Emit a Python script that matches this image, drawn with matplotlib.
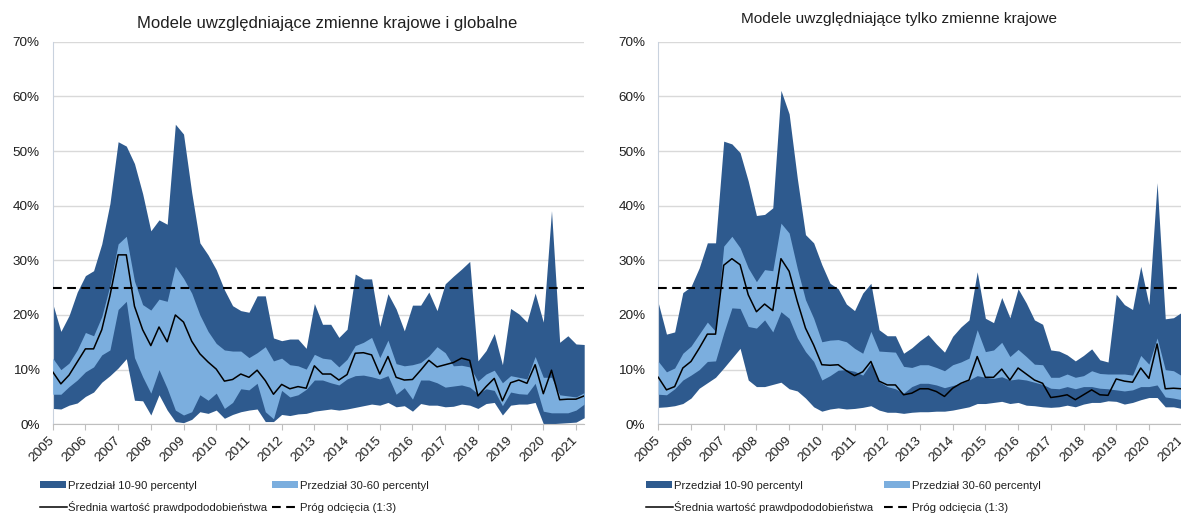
import matplotlib
matplotlib.use("Agg")
import matplotlib.pyplot as plt
from matplotlib.patches import Rectangle
from matplotlib.lines import Line2D
import matplotlib.transforms as mtransforms
import numpy as np

plt.rcParams['font.family'] = ['Liberation Sans', 'DejaVu Sans']

# Quarterly observations 2005Q1 .. 2021Q2 (values in %)
start_year = 2005
years = list(range(2005, 2022))
threshold = 25

# Left panel: models with domestic and global variables
L_p90 = [22.1, 17.0, 19.9, 24.2, 27.2, 28.1, 33.0, 40.4, 51.7, 50.9, 47.7, 42.2, 35.4, 37.4, 36.6, 54.9,
         53.1, 42.4, 33.2, 31.0, 28.3, 24.6, 21.7, 20.8, 20.5, 23.5, 23.5, 15.8, 15.3, 15.6, 15.6, 13.9,
         22.1, 18.3, 18.3, 15.9, 17.4, 27.5, 26.6, 26.6, 17.9, 23.9, 21.1, 17.1, 21.8, 21.8, 24.2, 20.8,
         25.7, 27.1, 28.4, 29.8, 11.6, 13.5, 16.6, 10.9, 21.2, 20.2, 18.7, 24.0, 18.7, 39.1, 15.0, 16.2,
         14.7, 14.6]
L_p60 = [12.1, 10.0, 11.2, 13.6, 16.8, 16.2, 19.7, 25.4, 33.0, 34.4, 26.2, 21.9, 20.9, 22.9, 22.5, 28.9,
         26.7, 24.0, 20.0, 17.0, 14.8, 13.6, 13.4, 13.4, 12.2, 13.1, 14.2, 11.6, 12.1, 10.9, 10.7, 10.1,
         12.8, 12.1, 11.9, 10.5, 11.9, 14.4, 15.0, 15.9, 12.2, 15.4, 11.1, 10.7, 10.9, 11.3, 12.5, 14.2,
         13.1, 10.7, 10.8, 10.5, 7.9, 9.2, 9.9, 7.6, 8.9, 8.6, 8.3, 12.4, 8.6, 8.6, 5.4, 5.2,
         5.0, 5.8]
L_p30 = [5.5, 5.5, 6.9, 8.1, 9.6, 10.5, 12.7, 13.6, 21.0, 22.5, 12.2, 8.7, 5.7, 10.0, 6.6, 2.6,
         1.7, 2.3, 5.4, 4.4, 5.7, 2.9, 4.0, 6.5, 6.3, 7.5, 2.3, 1.0, 6.2, 5.0, 5.4, 6.4,
         8.1, 8.1, 7.6, 7.2, 8.3, 8.9, 9.0, 8.7, 8.3, 8.9, 5.5, 6.7, 4.6, 8.1, 8.1, 7.6,
         6.8, 7.0, 7.2, 6.8, 5.6, 6.5, 6.2, 3.4, 5.9, 5.6, 5.5, 7.5, 2.4, 2.1, 2.1, 2.1,
         2.6, 3.7]
L_p10 = [2.9, 2.8, 3.5, 3.9, 5.1, 5.9, 7.7, 8.9, 10.3, 12.0, 4.4, 4.3, 1.7, 5.4, 2.6, 0.5,
         0.3, 0.9, 2.3, 2.0, 2.6, 1.1, 1.8, 2.3, 2.6, 2.8, 0.5, 0.5, 1.8, 1.6, 1.9, 2.0,
         2.4, 2.6, 2.8, 2.6, 2.8, 3.1, 3.4, 3.7, 3.5, 4.0, 3.2, 3.4, 2.4, 3.8, 3.5, 3.5,
         3.2, 3.3, 3.7, 3.5, 2.9, 3.8, 4.0, 1.7, 3.5, 3.7, 3.7, 4.0, 0.1, 0.1, 0.2, 0.3,
         0.4, 1.2]
L_mean = [9.6, 7.4, 9.0, 11.4, 13.8, 13.8, 17.3, 23.5, 31.0, 31.0, 21.6, 17.3, 14.4, 17.8, 15.1, 20.0,
          18.7, 15.2, 12.9, 11.4, 10.1, 7.9, 8.2, 9.2, 8.6, 9.9, 8.0, 5.5, 7.3, 6.5, 6.9, 6.6,
          10.7, 9.2, 9.2, 8.1, 9.1, 13.0, 13.1, 12.7, 9.2, 12.4, 8.6, 8.1, 8.2, 9.9, 11.7, 10.5,
          10.9, 11.3, 12.1, 11.7, 5.2, 6.9, 8.4, 4.3, 7.6, 8.1, 7.5, 10.9, 5.6, 9.9, 4.5, 4.6,
          4.6, 5.2]

# Right panel: models with domestic variables only
R_p90 = [22.2, 16.5, 16.9, 24.1, 25.2, 28.6, 33.2, 33.2, 51.8, 51.3, 49.7, 44.5, 38.2, 38.4, 39.6, 61.1,
         56.8, 45.0, 34.7, 33.2, 29.2, 25.8, 24.8, 22.0, 20.8, 24.0, 25.8, 17.3, 16.2, 16.2, 13.0, 14.0,
         15.3, 16.4, 14.7, 13.2, 16.1, 17.8, 19.1, 27.9, 19.4, 18.6, 23.2, 19.5, 24.8, 22.2, 19.1, 18.3,
         13.6, 13.4, 12.7, 11.6, 12.6, 13.8, 11.8, 11.4, 23.8, 21.9, 21.0, 28.9, 21.9, 44.2, 19.3, 19.5,
         20.5, 21.0]
R_p60 = [11.5, 9.6, 10.3, 13.0, 14.3, 16.5, 18.7, 17.0, 32.6, 34.4, 32.3, 28.6, 26.1, 28.3, 28.1, 36.8,
         35.0, 28.5, 22.8, 19.4, 15.1, 15.4, 15.5, 15.1, 13.9, 13.0, 17.0, 13.4, 13.3, 13.2, 10.6, 10.4,
         10.9, 10.9, 10.4, 9.8, 10.9, 11.4, 12.1, 17.3, 13.3, 13.6, 15.0, 12.4, 13.7, 12.4, 11.0, 10.9,
         8.6, 8.6, 9.2, 8.6, 8.9, 9.8, 9.3, 9.2, 9.2, 9.2, 9.0, 12.6, 11.0, 15.8, 10.0, 9.8,
         8.9, 8.8]
R_p30 = [5.5, 5.4, 6.5, 8.1, 9.0, 10.0, 11.5, 11.6, 16.7, 21.3, 21.2, 17.9, 17.6, 19.1, 16.9, 20.6,
         19.4, 15.8, 13.3, 11.5, 8.1, 8.9, 9.9, 10.0, 9.7, 9.0, 11.2, 7.8, 6.9, 6.5, 5.7, 6.9,
         7.5, 7.5, 7.2, 6.7, 7.1, 7.5, 8.1, 8.9, 8.6, 8.4, 8.7, 8.1, 8.3, 8.1, 7.7, 7.3,
         6.6, 6.5, 6.9, 6.5, 6.9, 6.9, 6.6, 6.5, 6.3, 6.1, 6.3, 6.9, 6.9, 7.2, 5.0, 4.8,
         4.5, 4.5]
R_p10 = [3.1, 3.2, 3.4, 3.8, 4.8, 6.6, 7.6, 8.6, 10.3, 12.1, 13.9, 8.1, 6.9, 6.9, 7.3, 7.7,
         6.5, 6.1, 4.8, 3.2, 2.4, 2.8, 3.0, 2.8, 2.9, 3.1, 3.4, 2.6, 2.2, 2.2, 2.0, 2.2,
         2.3, 2.3, 2.4, 2.4, 2.6, 2.9, 3.2, 3.8, 3.8, 4.0, 4.2, 3.8, 4.0, 3.5, 3.4, 3.2,
         3.1, 3.2, 3.5, 3.2, 3.7, 4.0, 4.0, 4.3, 4.2, 3.7, 4.0, 4.5, 4.9, 4.9, 3.2, 3.2,
         2.9, 2.8]
R_mean = [8.6, 6.3, 6.9, 10.3, 11.5, 13.9, 16.5, 16.5, 29.1, 30.3, 29.2, 23.7, 20.6, 22.0, 20.8, 30.3,
          28.0, 22.5, 17.6, 14.5, 10.9, 10.8, 10.9, 9.8, 8.9, 9.6, 11.5, 7.9, 7.2, 7.2, 5.4, 5.7,
          6.5, 6.5, 6.0, 5.1, 6.6, 7.5, 8.1, 12.4, 8.6, 8.6, 10.1, 8.1, 10.3, 9.2, 8.1, 7.5,
          4.9, 5.1, 5.4, 4.5, 5.4, 6.3, 5.4, 5.3, 8.3, 7.9, 7.7, 10.3, 8.4, 14.7, 6.5, 6.6,
          6.5, 6.4]

titles = ["Modele uwzględniające zmienne krajowe i globalne",
          "Modele uwzględniające tylko zmienne krajowe"]
legend_labels = ["Przedział 10-90 percentyl", "Przedział 30-60 percentyl",
                 "Średnia wartość prawdpododobieństwa", "Próg odcięcia (1:3)"]

DARK = "#2E5A8E"
LIGHT = "#7BAEDE"
GRID = "#D9D9D9"
TXT = "#1f1f1f"

W, H = 1181, 513
fig = plt.figure(figsize=(W / 100, H / 100), dpi=100)

def fx(px):
    return px / W

def fy(py):
    return 1 - py / H

ax_bottom = fy(424.3)
ax_h = fy(41.7) - ax_bottom
ax_w = fx(531.5)
axL = fig.add_axes([fx(52.7), ax_bottom, ax_w, ax_h])
axR = fig.add_axes([fx(658.3), ax_bottom, ax_w, ax_h])

def draw(ax, p10, p30, p60, p90, mean):
    n = len(p90)
    x = start_year + np.arange(n) / 4.0
    p10 = np.array(p10); p30 = np.array(p30); p60 = np.array(p60); p90 = np.array(p90)
    ax.fill_between(x, p10, p90, color=DARK, lw=0, zorder=2)
    ax.fill_between(x, p30, p60, color=LIGHT, lw=0, zorder=3)
    ax.plot(x, mean, color="black", lw=1.1, zorder=4)
    ax.axhline(threshold, color="black", lw=1.5, dashes=(4.2, 2.6), zorder=5)
    ax.set_xlim(start_year, start_year + (n - 1) / 4.0)
    ax.set_ylim(0, 70)
    ax.set_yticks(np.arange(0, 71, 10))
    ax.set_yticklabels([f"{v}%" for v in range(0, 71, 10)])
    ax.yaxis.grid(True, color=GRID, lw=1.0, zorder=0)
    ax.set_axisbelow(True)
    ax.set_xticks(years)
    ax.set_xticklabels([str(y) for y in years], rotation=45, ha="right",
                       va="center", rotation_mode="anchor")
    offset = mtransforms.ScaledTranslation(-2.5 / 100, 0, fig.dpi_scale_trans)
    for lab in ax.get_xticklabels():
        lab.set_transform(lab.get_transform() + offset)
    ax.tick_params(axis="y", length=0, pad=9.3, labelsize=9.7, labelcolor=TXT)
    ax.tick_params(axis="x", length=4, width=0.8, color="#BFBFBF", pad=6,
                   labelsize=9.7, labelcolor=TXT, direction="out")
    for s in ["top", "right"]:
        ax.spines[s].set_visible(False)
    ax.spines["left"].set_color("#C9D2DE")
    ax.spines["left"].set_linewidth(0.8)
    ax.spines["bottom"].set_color("#BFBFBF")
    ax.spines["bottom"].set_linewidth(0.8)
    ax.spines["bottom"].set_zorder(6)

draw(axL, L_p10, L_p30, L_p60, L_p90, L_mean)
draw(axR, R_p10, R_p30, R_p60, R_p90, R_mean)

fig.text(fx(327), fy(28), titles[0], ha="center", va="baseline", fontsize=12, color=TXT)
fig.text(fx(899), fy(23), titles[1], ha="center", va="baseline", fontsize=11.1, color=TXT)

# Manual legends (two rows, two columns) under each panel
row_y = [484.7, 507.0]
for col1_x, col2_x in ((40, 271.5), (646, 884)):
    items = [(col1_x, row_y[0], "patch", DARK, legend_labels[0]),
             (col2_x, row_y[0], "patch", LIGHT, legend_labels[1]),
             (col1_x, row_y[1], "line", None, legend_labels[2]),
             (col2_x, row_y[1], "dash", None, legend_labels[3])]
    for hx, hy, kind, col, lab in items:
        if kind == "patch":
            fig.add_artist(Rectangle((fx(hx), fy(hy + 3.6)), fx(26), 7.2 / H,
                                     transform=fig.transFigure, facecolor=col,
                                     edgecolor="none"))
        elif kind == "line":
            fig.add_artist(Line2D([fx(hx), fx(hx + 27)], [fy(hy), fy(hy)],
                                  transform=fig.transFigure, color="black", lw=1.1))
        else:
            fig.add_artist(Line2D([fx(hx), fx(hx + 27)], [fy(hy), fy(hy)],
                                  transform=fig.transFigure, color="black", lw=1.5,
                                  dashes=(4.2, 2.6)))
        fig.text(fx(hx + 28.5), fy(hy + 4.1), lab, ha="left", va="baseline",
                 fontsize=8.2, color=TXT)

fig.savefig("out.png", dpi=100)
